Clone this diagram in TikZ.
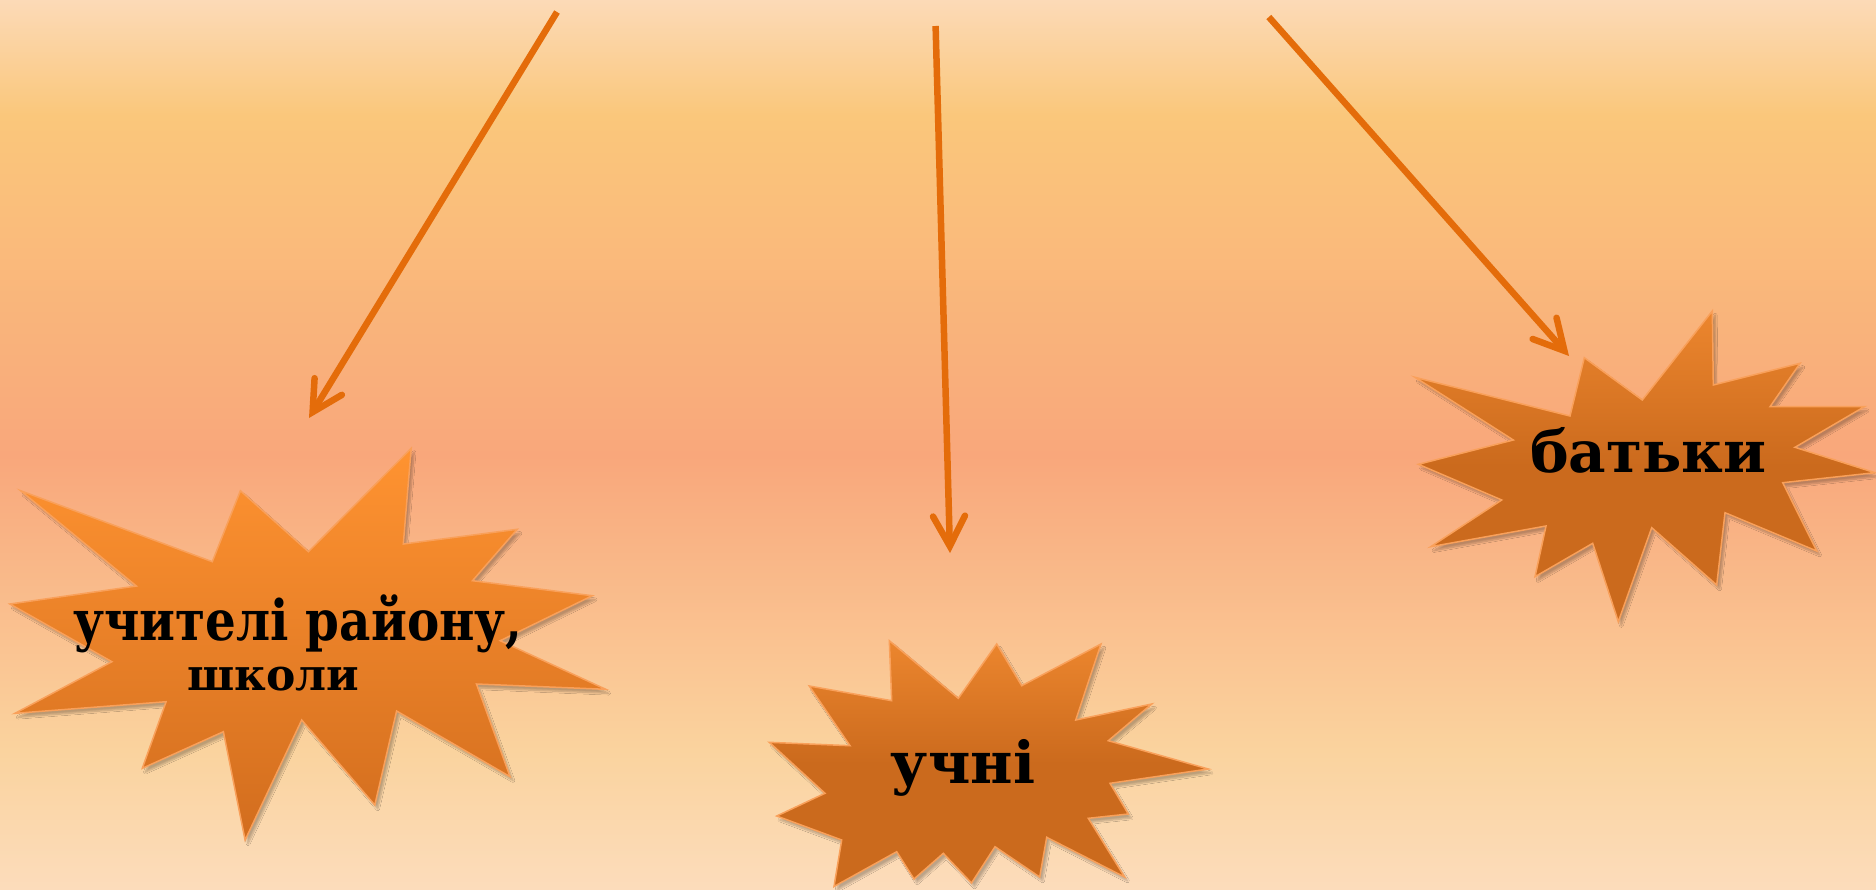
\documentclass[tikz,border=0pt]{standalone}
\usepackage{fontspec}
\newfontfamily\bk{DejaVu Serif}
\usetikzlibrary{arrows.meta,shadows.blur}
\definecolor{bgA}{HTML}{FCDAB7}
\definecolor{bgB}{HTML}{FAC77B}
\definecolor{bgC}{HTML}{F9A77B}
\definecolor{bgD}{HTML}{FAD39E}
\definecolor{bgE}{HTML}{FCDCBB}
\definecolor{arr}{HTML}{E46C0A}
\definecolor{starline}{HTML}{F9A05A}
\definecolor{lsTop}{HTML}{FF9331}
\definecolor{lsBot}{HTML}{D26D1E}
\definecolor{dkTop}{HTML}{EC862E}
\definecolor{dk}{HTML}{CB6A1D}
\tikzset{
  starshape/.style={draw=starline,line width=1.5pt,line join=miter,
    blur shadow={shadow xshift=3pt,shadow yshift=-4pt,shadow blur steps=8,shadow opacity=25}},
  arrowline/.style={draw=arr,line width=6.5pt,-{Straight Barb[length=30pt,width=32pt,line cap=round]}},
  lbl/.style={inner sep=0pt,anchor=base,text=black,font=\bk\bfseries\fontsize{58}{60}\selectfont}
}
\begin{document}
\begin{tikzpicture}[x=1pt,y=-1pt]
\useasboundingbox (0,0) rectangle (1876,889);
% background
\fill[top color=bgA,bottom color=bgB] (0,0) rectangle (1876,115.5);
\fill[top color=bgB,bottom color=bgC] (0,115) rectangle (1876,455.5);
\fill[top color=bgC,bottom color=bgD] (0,455) rectangle (1876,750.5);
\fill[top color=bgD,bottom color=bgE] (0,750) rectangle (1876,889);
% left star
\shade[starshape,top color=lsTop,bottom color=lsBot]
 (20.6,490.7) -- (212.3,561.7) -- (240.4,490.7) -- (308.4,551.7) -- (411.2,448.3) -- (403.3,544) -- (517.2,529.3) -- (472.5,580.7) -- (592.3,595.7) -- (500.2,640.7) -- (605.8,689.3) -- (476.5,684) -- (510.1,776.7) -- (396.6,711) -- (374.8,805) -- (301.7,720) -- (245.1,840) -- (223.4,731.7) -- (142.3,768.3) -- (166.1,701.7) -- (15,713.3) -- (111.9,661.7) -- (9.9,604) -- (136.4,586) -- cycle;
% middle star
\shade[starshape,top color=dkTop,bottom color=dk,middle color=dk]
 (889.3,640.7) -- (958.3,698.3) -- (996.7,644) -- (1021.7,685.7) -- (1101,644) -- (1075.7,720) -- (1151.7,704) -- (1108.3,740.7) -- (1208.3,769) -- (1110,783.3) -- (1128.3,814) -- (1088.3,818.3) -- (1124.6,877) -- (1046.7,837.3) -- (1039.7,877) -- (995,846.7) -- (971.5,883) -- (943.3,853.3) -- (914,879) -- (896.7,851.7) -- (834,886.5) -- (841.7,840) -- (776.7,816) -- (825,793.3) -- (769.3,742.3) -- (850,745.7) -- (809.3,686) -- (891.7,700.7) -- cycle;
% right star
\shade[starshape,top color=dkTop,bottom color=dk,middle color=dk]
 (1415,377.3) -- (1570,416) -- (1584.3,357.7) -- (1642.3,400) -- (1712.3,311) -- (1713.3,385) -- (1800,363.3) -- (1770,406.7) -- (1864.3,406.7) -- (1795,447.3) -- (1875,472.7) -- (1782.7,482.7) -- (1816.7,551) -- (1725,512.7) -- (1716.7,585) -- (1651.7,527.7) -- (1618.3,621.7) -- (1592.7,543.3) -- (1535,576.7) -- (1546,526) -- (1430.7,546.7) -- (1501.7,500) -- (1418.3,464.3) -- (1513.3,440) -- cycle;
% labels
\node[lbl,font=\bk\bfseries\fontsize{56}{58}\selectfont] (t1) at (298,640) {\scalebox{0.865}[1]{учителі району,}};
\node[lbl,font=\bk\bfseries\fontsize{44}{46}\selectfont] (t2) at (273.5,690) {школи};
\node[lbl] (t3) at (963,783) {учні};
\node[lbl] (t4) at (1648.5,472) {батьки};
% arrows
\coordinate (a1s) at (557,12);
\coordinate (a1e) at (309,418);
\coordinate (a2s) at (935.6,26);
\coordinate (a2e) at (950,553);
\coordinate (a3s) at (1268.8,17);
\coordinate (a3e) at (1569,356);
\draw[arrowline] (a1s) -- (a1e);
\draw[arrowline] (a2s) -- (a2e);
\draw[arrowline] (a3s) -- (a3e);
\end{tikzpicture}
\end{document}
